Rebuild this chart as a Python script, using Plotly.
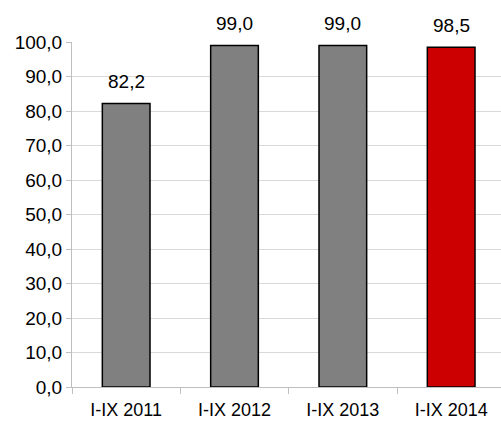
import plotly.graph_objects as go

categories = ["I-IX 2011", "I-IX 2012", "I-IX 2013", "I-IX 2014"]
values = [82.2, 99.0, 99.0, 98.5]
colors = ["#808080", "#808080", "#808080", "#CC0000"]
tick_vals = [0, 10, 20, 30, 40, 50, 60, 70, 80, 90, 100]
tick_text = ["0,0", "10,0", "20,0", "30,0", "40,0", "50,0", "60,0", "70,0", "80,0", "90,0", "100,0"]
labels = [f"{v:.1f}".replace(".", ",") for v in values]

font = "Liberation Sans, Arial, sans-serif"
fig = go.Figure()
fig.add_trace(go.Bar(
    x=categories, y=values, width=0.44,
    marker=dict(color=colors, line=dict(color="#000000", width=1.5)),
    hoverinfo="skip",
))
for c, v, t in zip(categories, values, labels):
    fig.add_annotation(x=c, y=v, text=t, showarrow=False, yshift=22,
                       font=dict(family=font, size=19, color="#000000"))

fig.update_layout(
    width=501, height=423,
    margin=dict(l=72, r=0, t=42, b=36, autoexpand=False),
    paper_bgcolor="white", plot_bgcolor="white",
    showlegend=False,
    font=dict(family=font, size=19, color="#000000"),
    xaxis=dict(range=[-0.5, 3.46], showline=True, linecolor="#BFBFBF", linewidth=1,
               ticks="outside", tickson="boundaries", ticklen=6, tickcolor="#BFBFBF",
               showgrid=False, tickfont=dict(size=18), ticklabelstandoff=6, automargin=False),
    yaxis=dict(range=[0, 100], tickvals=tick_vals, ticktext=tick_text,
               showline=True, linecolor="#BFBFBF", linewidth=1,
               ticks="outside", ticklen=5, tickcolor="#BFBFBF",
               showgrid=True, gridcolor="#D9D9D9", gridwidth=1,
               zeroline=False, tickfont=dict(size=19), automargin=False),
)
fig.write_html("out.html", config={"displayModeBar": False},
               post_script="document.body.style.margin='0';document.body.style.overflow='hidden';")
